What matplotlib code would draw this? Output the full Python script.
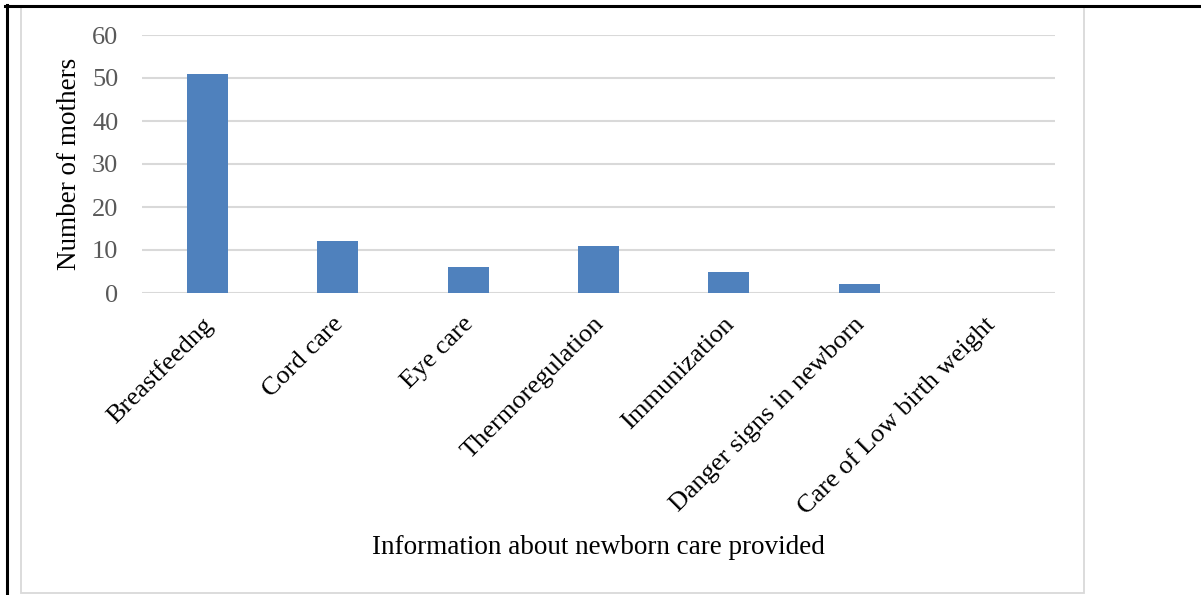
import numpy as np
import matplotlib.pyplot as plt
from matplotlib.lines import Line2D
from matplotlib.patches import Rectangle
from matplotlib.transforms import ScaledTranslation

categories = ['Breastfeedng', 'Cord care', 'Eye care', 'Thermoregulation',
              'Immunization', 'Danger signs in newborn', 'Care of Low birth weight']
mothers = [51, 12, 6, 11, 5, 2, 0]
yticks = [0, 10, 20, 30, 40, 50, 60]

plt.rcParams['font.family'] = ['Liberation Serif', 'DejaVu Serif']

W, H = 1201, 595
fig = plt.figure(figsize=(W / 100, H / 100), dpi=100)

# page decorations: black frame lines and grey chart border
fig.add_artist(Line2D([5 / W, 1.0], [1 - 5.5 / H, 1 - 5.5 / H], color='black', lw=2.2))
fig.add_artist(Line2D([7 / W, 7 / W], [0, 1 - 5 / H], color='black', lw=2.2))
fig.add_artist(Rectangle((20.5 / W, 1 - 593 / H), (1084 - 20.5) / W, (593 - 7) / H,
                         fill=False, edgecolor='#D9D9D9', lw=1.3))

ax = fig.add_axes([142 / W, 1 - 293 / H, (1055 - 142) / W, (293 - 35) / H])
x = np.arange(len(categories))
ax.bar(x, mothers, width=0.315, color='#4F81BD', zorder=3)

ax.set_xlim(-0.5, len(categories) - 0.5)
ax.set_ylim(0, 60)
ax.set_yticks(yticks)
ax.yaxis.grid(True, color='#D9D9D9', lw=1.5, zorder=0)
ax.set_axisbelow(True)
for s in ax.spines.values():
    s.set_visible(False)
ax.tick_params(axis='both', length=0)
ax.tick_params(axis='y', labelsize=19, labelcolor='#595959', pad=17)
ax.set_xticks(x)
ax.set_xticklabels(categories, rotation=45, ha='right', rotation_mode='anchor',
                   fontsize=19, color='black')
ax.tick_params(axis='x', pad=13)
shift = ScaledTranslation(-0.06, -0.02, fig.dpi_scale_trans)
for lab in ax.get_xticklabels():
    lab.set_transform(lab.get_transform() + shift)

ax.set_ylabel('Number of mothers', fontsize=19.5, color='black')
ax.yaxis.set_label_coords(-60 / 913, 0.5)
fig.text(598 / W, 1 - 548 / H, 'Information about newborn care provided',
         fontsize=19.5, ha='center', va='center', color='black')

fig.savefig('out.png', dpi=100, facecolor='white')
